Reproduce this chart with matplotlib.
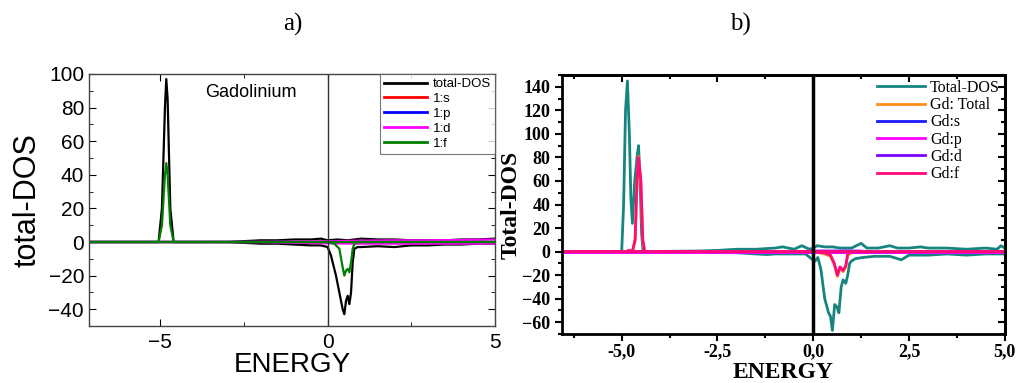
import numpy as np
import matplotlib
matplotlib.use("Agg")
import matplotlib.pyplot as plt
from matplotlib.ticker import MultipleLocator, FuncFormatter

"""
Panel a) - Gadolinium DOS (spin up / spin down)
"""
a_tot_up_x = [-7.1, -5.05, -4.95, -4.86, -4.82, -4.78, -4.7, -4.6, -3.0, -2.5, -2.0, -1.5,
              -1.0, -0.5, -0.2, 0.0, 0.3, 0.6, 1.0, 1.5, 2.0, 2.5, 3.0, 3.5, 4.0, 4.5, 5.0]
a_tot_up_y = [0, 0, 20, 80, 97, 85, 20, 0, 0, 0.5, 1, 1,
              1.5, 1.5, 2, 1, 1.5, 1, 2, 1.5, 1.5, 1, 1, 1, 1.5, 1.5, 2]
a_tot_dn_x = [-7.1, -3.0, -2.5, -2.0, -1.5, -1.0, -0.5, -0.2, 0.0, 0.1, 0.25, 0.35, 0.45, 0.5,
              0.55, 0.6, 0.65, 0.7, 0.75, 0.8, 0.9, 1.0, 1.5, 2.0, 2.5, 3.0, 3.5, 4.0, 4.5, 5.0]
a_tot_dn_y = [0, 0, -0.5, -1, -1, -1.5, -2, -2, -3, -8, -20, -30, -40, -43,
              -35, -32, -37, -30, -12, -4, -3, -3, -2.5, -3, -2, -2, -1.5, -1.5, -1, -1]
a_f_up_x = [-7.1, -5.05, -4.95, -4.86, -4.82, -4.78, -4.7, -4.6, 5.0]
a_f_up_y = [0, 0, 10, 40, 47, 40, 10, 0, 0]
a_f_dn_x = [-7.1, 0.0, 0.2, 0.35, 0.45, 0.5, 0.55, 0.6, 0.65, 0.7, 0.75, 0.8, 0.9, 5.0]
a_f_dn_y = [0, 0, -1, -4, -15, -20, -17, -16, -18, -12, -4, -1, 0, 0]
a_d_x = [-7.1, -2.0, 0.0, 1.0, 2.0, 3.0, 4.0, 5.0]
a_d_up_y = [0, 0.1, 0.5, 0.8, 1, 1, 1.2, 1.5]
a_d_dn_y = [0, -0.1, -0.8, -1, -1, -1, -1, -1]
a_sp_x = [-7.1, 5.0]
a_sp_y = [0, 0]
a_labels = ["total-DOS", "1:s", "1:p", "1:d", "1:f"]
a_colors = ["black", "#ff0000", "#0000ff", "#ff00ff", "#008000"]

"""
Panel b) - Total DOS and Gd projections
"""
b_tot_up_x = [-6.55, -5.0, -4.95, -4.9, -4.85, -4.8, -4.76, -4.72, -4.66, -4.6, -4.56, -4.52,
              -4.48, -4.44, -3.0, -2.5, -2.0, -1.5, -1.0, -0.8, -0.5, -0.3, -0.1, 0.0, 0.1,
              0.3, 0.5, 0.7, 1.0, 1.25, 1.4, 1.7, 2.0, 2.2, 2.5, 2.8, 3.0, 3.5, 4.0, 4.5,
              4.8, 4.9, 5.0]
b_tot_up_y = [0, 0, 40, 120, 145, 100, 45, 24, 60, 80, 90, 60,
              15, 0, 0.5, 1, 2, 2, 3, 4, 2, 5, 2, 3, 5,
              4, 4, 3, 3, 7, 3, 3, 5, 3, 3, 4, 3, 3, 2, 3,
              2, 5, 3]
b_tot_dn_x = [-6.55, -3.0, -2.5, -2.0, -1.5, -1.2, -1.0, -0.5, -0.2, -0.05, 0.05, 0.12, 0.2,
              0.3, 0.4, 0.45, 0.5, 0.56, 0.62, 0.67, 0.73, 0.78, 0.85, 0.9, 0.95, 1.0, 1.1,
              1.3, 1.6, 2.0, 2.3, 2.5, 3.0, 3.5, 4.0, 4.5, 5.0]
b_tot_dn_y = [0, 0, -0.5, -1, -2, -2.5, -2, -2, -2, -6, -8, -5, -15,
              -40, -52, -55, -67, -45, -47, -52, -30, -24, -27, -20, -10, -8, -6,
              -5, -4, -4, -7, -3, -3, -2, -3, -2, -2]
b_gd_up_x = [-6.55, -4.9, -4.8, -4.72, -4.65, -4.6, -4.56, -4.5, -4.45, -4.4, 5.0]
b_gd_up_y = [0, 0, 1, 0, 10, 60, 81, 60, 10, 0, 0]
b_gd_dn_x = [-6.55, 0.0, 0.3, 0.45, 0.55, 0.63, 0.7, 0.78, 0.85, 0.9, 1.0, 5.0]
b_gd_dn_y = [0, 0, -2, -4, -11, -21, -14, -17, -13, -3, -1, 0]
b_f_up_y = [0, 0, 1, 0, 10, 60, 80, 60, 10, 0, 0]
b_f_dn_y = [0, 0, -1, -3, -10, -20, -13, -16, -12, -2, 0, 0]
b_d_x = [-6.55, -0.2, 0.0, 1.2, 1.4, 5.0]
b_d_y = [0, 0, 0.5, 0.5, 0, 0]
b_sp_x = [-6.55, 5.0]
b_sp_y = [0, 0]
b_labels = ["Total-DOS", "Gd: Total", "Gd:s", "Gd:p", "Gd:d", "Gd:f"]
b_colors = ["#16847f", "#ff8c1a", "#1a1aff", "#ff00ff", "#8000ff", "#ff0a78"]

"""
Draw
"""
fig = plt.figure(figsize=(10.18, 3.83), dpi=100)

# ---------- a) ----------
ax = fig.add_axes([0.0874, 0.1488, 0.3988, 0.658])
sans = "Liberation Sans"
lw = 1.6
ax.plot(a_tot_up_x, a_tot_up_y, color=a_colors[0], lw=lw, label=a_labels[0])
ax.plot(a_tot_dn_x, a_tot_dn_y, color=a_colors[0], lw=lw)
ax.plot(a_sp_x, a_sp_y, color=a_colors[1], lw=lw, label=a_labels[1])
ax.plot(a_sp_x, a_sp_y, color=a_colors[2], lw=lw, label=a_labels[2])
ax.plot(a_d_x, a_d_up_y, color=a_colors[3], lw=lw, label=a_labels[3])
ax.plot(a_d_x, a_d_dn_y, color=a_colors[3], lw=lw)
ax.plot(a_f_up_x, a_f_up_y, color=a_colors[4], lw=lw, label=a_labels[4])
ax.plot(a_f_dn_x, a_f_dn_y, color=a_colors[4], lw=lw)
ax.axvline(0, color="#333333", lw=1.0)

ax.set_xlim(-7.13, 5)
ax.set_ylim(-50, 100)
ax.xaxis.set_major_locator(MultipleLocator(5))
ax.xaxis.set_minor_locator(MultipleLocator(2.5))
ax.yaxis.set_major_locator(MultipleLocator(20))
ax.yaxis.set_minor_locator(MultipleLocator(10))
ax.tick_params(which="both", direction="in", top=True, right=True, labelsize=15)
ax.tick_params(axis="x", pad=5)
ax.tick_params(which="major", length=5)
ax.tick_params(which="minor", length=3)
for lab in ax.get_xticklabels() + ax.get_yticklabels():
    lab.set_family(sans)
for sp in ax.spines.values():
    sp.set_color("#444444")
    sp.set_linewidth(1.0)
ax.set_xlabel("ENERGY", fontsize=20, family=sans, labelpad=0)
ax.set_ylabel("total-DOS", fontsize=22, family=sans, labelpad=4)
ax.text(-2.3, 89, "Gadolinium", fontsize=13, family=sans, va="center", ha="center")
leg = ax.legend(loc="upper right", prop={"family": sans, "size": 9.5}, frameon=True,
                fancybox=False, edgecolor="#555555", borderpad=0.3, labelspacing=0.2,
                handlelength=3.3, handletextpad=0.4, borderaxespad=0.0)
leg.get_frame().set_linewidth(0.8)
for line in leg.get_lines():
    line.set_linewidth(2.0)

# ---------- b) ----------
bx = fig.add_axes([0.552, 0.128, 0.435, 0.676])
serif = "Liberation Serif"
lw2 = 2.0
bx.plot(b_tot_up_x, b_tot_up_y, color=b_colors[0], lw=lw2, label=b_labels[0])
bx.plot(b_tot_dn_x, b_tot_dn_y, color=b_colors[0], lw=lw2)
bx.plot(b_gd_up_x, b_gd_up_y, color=b_colors[1], lw=lw2, label=b_labels[1])
bx.plot(b_gd_dn_x, b_gd_dn_y, color=b_colors[1], lw=lw2)
bx.plot(b_sp_x, b_sp_y, color=b_colors[2], lw=lw2, label=b_labels[2])
bx.plot(b_sp_x, b_sp_y, color=b_colors[3], lw=lw2, label=b_labels[3])
bx.plot(b_d_x, b_d_y, color=b_colors[4], lw=lw2, label=b_labels[4])
bx.plot(b_gd_up_x, b_f_up_y, color=b_colors[5], lw=lw2, label=b_labels[5])
bx.plot(b_gd_dn_x, b_f_dn_y, color=b_colors[5], lw=lw2)
bx.axvline(0, color="black", lw=2.5)

bx.set_xlim(-6.56, 5)
bx.set_ylim(-70, 150)
bx.xaxis.set_major_locator(MultipleLocator(2.5))
bx.xaxis.set_minor_locator(MultipleLocator(1.25))
bx.yaxis.set_major_locator(MultipleLocator(20))
bx.yaxis.set_minor_locator(MultipleLocator(10))
bx.xaxis.set_major_formatter(FuncFormatter(lambda v, p: ("%.1f" % v).replace(".", ",")))
bx.tick_params(which="both", direction="out", width=1.5, labelsize=13)
bx.tick_params(axis="x", pad=2)
bx.tick_params(which="major", length=5)
bx.tick_params(which="minor", length=3)
bx2 = bx.secondary_xaxis("top")
bx2.xaxis.set_major_locator(MultipleLocator(2.5))
bx2.xaxis.set_minor_locator(MultipleLocator(1.25))
bx2.tick_params(which="both", direction="in", width=1.5, labeltop=False)
bx2.tick_params(which="major", length=5)
bx2.tick_params(which="minor", length=3)
by2 = bx.secondary_yaxis("right")
by2.yaxis.set_major_locator(MultipleLocator(20))
by2.yaxis.set_minor_locator(MultipleLocator(10))
by2.tick_params(which="both", direction="in", width=1.5, labelright=False)
by2.tick_params(which="major", length=5)
by2.tick_params(which="minor", length=3)
for lab in bx.get_xticklabels() + bx.get_yticklabels():
    lab.set_family(serif)
    lab.set_fontweight("bold")
for sp in bx.spines.values():
    sp.set_linewidth(2.0)
by2.spines["right"].set_linewidth(2.0)
bx2.spines["top"].set_linewidth(2.0)
bx.set_xlabel("ENERGY", fontsize=17, family=serif, fontweight="bold", labelpad=1)
bx.set_ylabel("Total-DOS", fontsize=17, family=serif, fontweight="bold", labelpad=0)
bleg = bx.legend(loc="upper right", prop={"family": serif, "size": 11.5}, frameon=False,
                 borderpad=0.2, labelspacing=0.08, handlelength=3.0, handletextpad=0.3,
                 borderaxespad=0.1)
for line in bleg.get_lines():
    line.set_linewidth(2.0)

fig.text(0.288, 0.935, "a)", fontsize=18, family=serif, ha="center", va="center")
fig.text(0.727, 0.935, "b)", fontsize=18, family=serif, ha="center", va="center")

fig.savefig("out.png", dpi=100)
